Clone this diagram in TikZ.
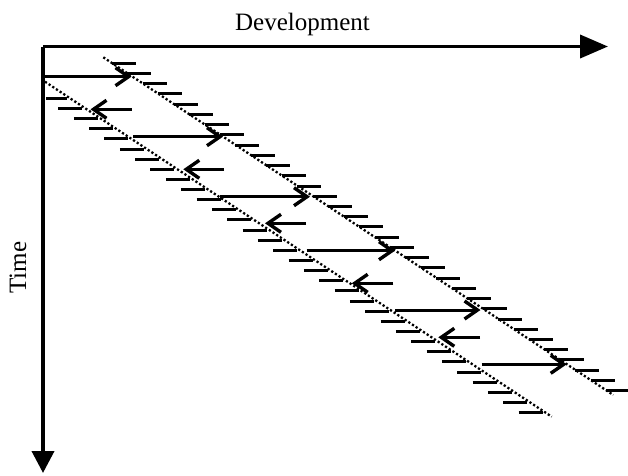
\documentclass[tikz,border=0pt]{standalone}
\usepackage{fontspec}
\setmainfont{Liberation Serif}
\usetikzlibrary{arrows.meta}
\begin{document}
\begin{tikzpicture}[x=1pt,y=-1pt,
  axis/.style={line width=3.8pt},
  dotline/.style={line width=2.3pt, dash pattern=on 2.2pt off 2.2pt},
  hatch/.style={line width=3pt},
  flow/.style={line width=3pt, -{Straight Barb[length=13pt,width=18pt,line width=3.4pt]}},
  lbl/.style={font=\fontsize{25}{30}\selectfont, inner sep=0pt}]
\useasboundingbox (0,0) rectangle (628,475);
% hatching along upper line
\foreach \i in {0,...,32}{
  \pgfmathsetmacro\yy{63.3+10.23*\i}
  \pgfmathsetmacro\xx{103.3+(\yy-57.3)/0.6622}
  \draw[hatch] (\xx-0.5,\yy) -- (\xx+23.5,\yy);
}
% hatching along lower line
\foreach \j in {0,...,31}{
  \pgfmathsetmacro\yy{98.3+10.14*\j}
  \pgfmathsetmacro\xx{45+(\yy-81.7)/0.6611}
  \pgfmathsetmacro\xs{max(46,\xx-27)}
  \draw[hatch] (\xs,\yy) -- (\xx-3,\yy);
}
% dotted boundary lines
\coordinate (u0) at (103.3,57.3);
\coordinate (u1) at (613.3,395);
\coordinate (l0) at (45,81.7);
\coordinate (l1) at (551.7,416.7);
\draw[dotline] (u0) -- (u1);
\draw[dotline] (l0) -- (l1);
% right arrows
\foreach \n/\y/\a/\b in {1/76.7/45/131.5, 2/136.7/133/223, 3/196.7/220/310,
                         4/250.7/306.7/395, 5/310/395/480.5, 6/364.3/481.7/566.7}{
  \coordinate (r\n s) at (\a,\y);
  \coordinate (r\n e) at (\b,\y);
  \draw[flow] (r\n s) -- (r\n e);
}
% left arrows
\foreach \n/\y/\a/\b in {1/109.3/131.7/90.5, 2/169.3/224/183.3, 3/223.3/306/265,
                         4/283.3/393.3/351.7, 5/337.3/480/438.3}{
  \coordinate (k\n s) at (\a,\y);
  \coordinate (k\n e) at (\b,\y);
  \draw[flow] (k\n s) -- (k\n e);
}
% axes
\coordinate (o) at (43,46.5);
\coordinate (xe) at (608,46.5);
\coordinate (ye) at (43,473);
\draw[axis, -{Triangle[length=28pt,width=23pt]}] (o) -- (xe);
\draw[axis, -{Triangle[length=22pt,width=22pt]}] (o) -- (ye);
\node[lbl, anchor=base] (dev) at (302.5,30) {Development};
\node[lbl, rotate=90, anchor=base] (time) at (26,267.5) {Time};
\end{tikzpicture}
\end{document}
